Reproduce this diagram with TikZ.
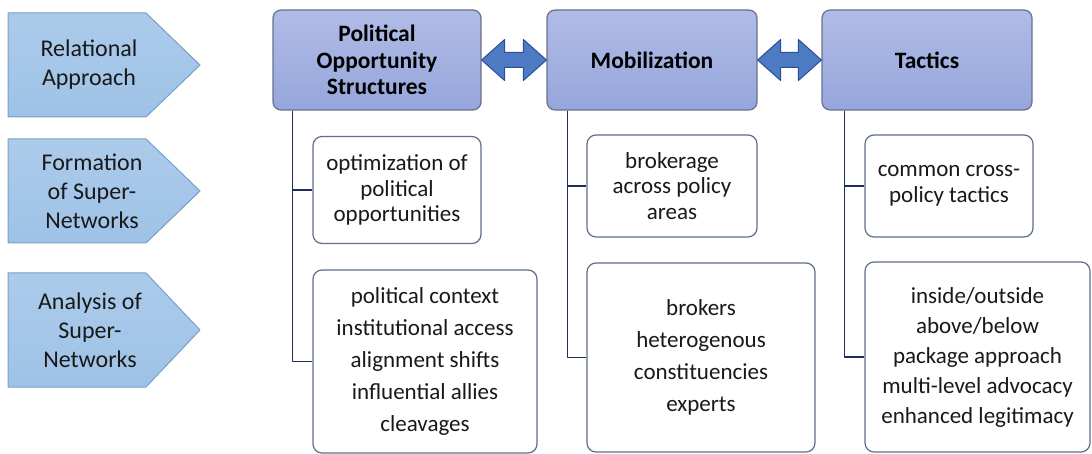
\documentclass[tikz,border=0pt]{standalone}
\usepackage{fontspec}
\setmainfont{Carlito}
\usetikzlibrary{calc}

\begin{document}
\begin{tikzpicture}[x=1pt,y=-1pt,line join=round]
  % Key Colors
  \definecolor{chevtop}  {RGB}{172,203,235}
  \definecolor{chevbot}  {RGB}{158,194,230}
  \definecolor{chevedge} {RGB}{120,160,200}
  \definecolor{headtop}  {RGB}{176,188,230}
  \definecolor{headbot}  {RGB}{150,166,220}
  \definecolor{headedge} {RGB}{105,112,140}
  \definecolor{subedge}  {RGB}{95,110,140}
  \definecolor{linkfill} {RGB}{78,122,196}
  \definecolor{linkedge} {RGB}{40,80,150}
  \definecolor{branchcol}{RGB}{30,45,90}

  % Styles
  \tikzstyle{chevron}=[draw=chevedge,line width=1pt,top color=chevtop,bottom color=chevbot]
  \tikzstyle{chevron text}=[align=center,font={\fontsize{24}{29}\selectfont},text=black!90]
  \tikzstyle{head box}=[draw=headedge,line width=1.2pt,rounded corners=8pt,
                        top color=headtop,bottom color=headbot,align=center,
                        font={\bfseries\fontsize{23.5}{26.5}\selectfont}]
  \tikzstyle{sub box}=[draw=subedge,line width=1.2pt,rounded corners=9pt,fill=white,
                       align=center,text=black!90,font={\fontsize{23}{25.5}\selectfont}]
  \tikzstyle{list box}=[sub box,font={\fontsize{23}{32}\selectfont}]
  \tikzstyle{branch line}=[draw=branchcol,line width=1.8pt]
  \tikzstyle{link arrow}=[fill=linkfill,draw=linkedge,line width=1pt]

  % Frame
  \useasboundingbox (0,0) rectangle (1092,454);

  % Left chevrons
  \draw[chevron] (8,13)  -- (146,13)  -- (200,65)  -- (146,117) -- (8,117) -- cycle;
  \draw[chevron] (8,139) -- (146,139) -- (200,191) -- (146,243) -- (8,243) -- cycle;
  \draw[chevron] (8,273) -- (146,273) -- (200,330) -- (146,387) -- (8,387) -- cycle;
  \node[chevron text] (relational) at (89,65)  {Relational\\Approach};
  \node[chevron text] (formation)  at (92,191) {Formation\\of Super-\\Networks};
  \node[chevron text] (analysis)   at (90,330) {Analysis of\\Super-\\Networks};

  % Column heads
  \node[head box,minimum width=208pt,minimum height=100pt] (pos) at (377,60) {Political\\Opportunity\\Structures};
  \node[head box,minimum width=210pt,minimum height=100pt] (mob) at (652,60) {Mobilization};
  \node[head box,minimum width=210pt,minimum height=100pt] (tac) at (927,60) {Tactics};

  % Sub boxes
  \node[sub box,minimum width=168pt,minimum height=107pt]  (pos1) at (397,190)   {optimization of\\political\\opportunities};
  \node[list box,minimum width=224pt,minimum height=183pt] (pos2) at (425,361.5)
    {political context\\institutional access\\alignment shifts\\influential allies\\cleavages};
  \node[sub box,minimum width=170pt,minimum height=102pt]  (mob1) at (672,186)   {brokerage\\across policy\\areas};
  \node[list box,minimum width=228pt,minimum height=189pt] (mob2) at (701,357.5)
    {brokers\\heterogenous\\constituencies\\experts};
  \node[sub box,minimum width=168pt,minimum height=102pt]  (tac1) at (949,186)   {common cross-\\policy tactics};
  \node[list box,minimum width=225pt,minimum height=190pt,font={\fontsize{23}{30}\selectfont}] (tac2) at (977.5,357)
    {inside/outside\\above/below\\package approach\\multi-level advocacy\\enhanced legitimacy};

  % Branch lines
  \draw[branch line] ([xshift=20pt]pos.south west) |- (pos1.west);
  \draw[branch line] ([xshift=20pt]pos.south west) |- (pos2.west);
  \draw[branch line] ([xshift=21pt]mob.south west) |- (mob1.west);
  \draw[branch line] ([xshift=21pt]mob.south west) |- (mob2.west);
  \draw[branch line] ([xshift=23pt]tac.south west) |- (tac1.west);
  \draw[branch line] ([xshift=23pt]tac.south west) |- (tac2.west);

  % Double arrows between heads
  \filldraw[link arrow] (pos.east) -- ++(23,-20.5) -- ++(0,13) -- ($(mob.west)+(-23,-7.5)$)
    -- ++(0,-13) -- (mob.west) -- ++(-23,20.5) -- ++(0,-13) -- ($(pos.east)+(23,7.5)$) -- ++(0,13) -- cycle;
  \filldraw[link arrow] (mob.east) -- ++(23,-20.5) -- ++(0,13) -- ($(tac.west)+(-23,-7.5)$)
    -- ++(0,-13) -- (tac.west) -- ++(-23,20.5) -- ++(0,-13) -- ($(mob.east)+(23,7.5)$) -- ++(0,13) -- cycle;

\end{tikzpicture}
\end{document}
